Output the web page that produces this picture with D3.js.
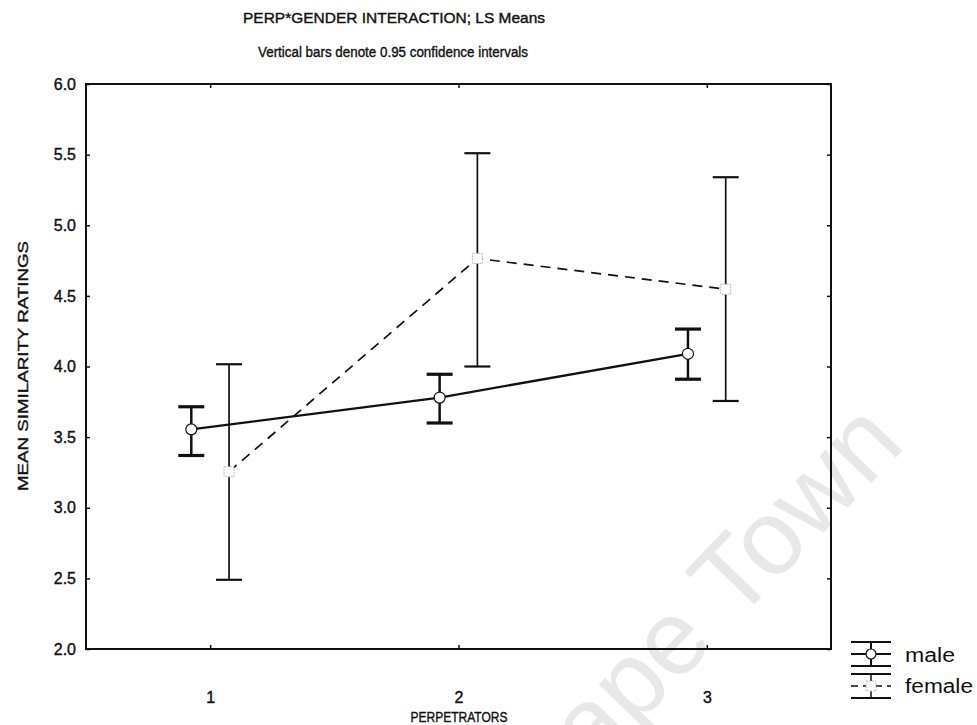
<!DOCTYPE html>
<html><head><meta charset="utf-8">
<script src="https://cdn.jsdelivr.net/npm/d3@7"></script>
<style>body{margin:0;background:#fff}svg{display:block}text{font-family:"Liberation Sans",Arial,sans-serif;fill:#111}
.ink{stroke:#111;stroke-width:0.4px;paint-order:stroke}</style>
</head><body><div id="c"></div>
<script>
const groups = [1, 2, 3];
const xTickLabels = ["1", "2", "3"];
const yTicks = [2.0, 2.5, 3.0, 3.5, 4.0, 4.5, 5.0, 5.5, 6.0];
const maleMean = [3.555, 3.78, 4.09];
const maleLow = [3.37, 3.60, 3.91];
const maleHigh = [3.715, 3.945, 4.265];
const femaleMean = [3.255, 4.765, 4.547];
const femaleLow = [2.49, 4.00, 3.756];
const femaleHigh = [4.016, 5.51, 5.34];
const seriesNames = ["male", "female"];

const W = 977, H = 725;
const svg = d3.select("#c").append("svg").attr("width", W).attr("height", H);

// watermark
svg.append("text").text("Cape Town")
  .attr("transform", "translate(540,826) rotate(-46)")
  .attr("font-size", 106).style("fill", "#e8e8e8");

const x = d3.scaleLinear().domain([0.5, 3.5]).range([86, 831]);
const y = d3.scaleLinear().domain([2, 6]).range([649, 84]);
const off = 0.076;

// titles
svg.append("text").attr("class", "ink").text("PERP*GENDER INTERACTION; LS Means")
  .attr("x", 394).attr("y", 23).attr("text-anchor", "middle")
  .attr("font-size", 15.5).attr("textLength", 302).attr("lengthAdjust", "spacingAndGlyphs");
svg.append("text").attr("class", "ink").text("Vertical bars denote 0.95 confidence intervals")
  .attr("x", 393).attr("y", 57).attr("text-anchor", "middle")
  .attr("font-size", 15.5).attr("textLength", 270).attr("lengthAdjust", "spacingAndGlyphs");

// axes
const yAxisL = d3.axisLeft(y).tickValues(yTicks).tickSize(-4).tickPadding(10).tickFormat(d3.format(".1f"));
const gL = svg.append("g").attr("transform", "translate(86,0)").call(yAxisL);
const yAxisR = d3.axisRight(y).tickValues(yTicks).tickSize(-4).tickFormat("");
const gR = svg.append("g").attr("transform", "translate(831,0)").call(yAxisR);
const xAxisB = d3.axisBottom(x).tickValues(groups).tickSize(-4).tickPadding(43).tickFormat((d, i) => xTickLabels[i]);
const gB = svg.append("g").attr("transform", "translate(0,649)").call(xAxisB);
const xAxisT = d3.axisTop(x).tickValues(groups).tickSize(-4).tickFormat("");
const gT = svg.append("g").attr("transform", "translate(0,84)").call(xAxisT);
[gL, gR, gB, gT].forEach(g => {
  g.select(".domain").remove();
  g.selectAll("line").attr("stroke", "#111").attr("stroke-width", 1.5);
  g.selectAll("text").attr("font-size", 16).attr("font-family", "Liberation Sans, Arial, sans-serif")
    .attr("class", "ink").style("fill", "#111");
});
svg.append("rect").attr("x", 86).attr("y", 84).attr("width", 745).attr("height", 565)
  .attr("fill", "none").attr("stroke", "#111").attr("stroke-width", 2);

// axis titles
svg.append("text").attr("class", "ink").text("MEAN SIMILARITY RATINGS")
  .attr("transform", "translate(28,366) rotate(-90)").attr("text-anchor", "middle")
  .attr("font-size", 15).attr("textLength", 250).attr("lengthAdjust", "spacingAndGlyphs");
svg.append("text").attr("class", "ink").text("PERPETRATORS")
  .attr("x", 459).attr("y", 722).attr("text-anchor", "middle")
  .attr("font-size", 15).attr("textLength", 97).attr("lengthAdjust", "spacingAndGlyphs");

// lines
const maleX = groups.map(g => g - off), femX = groups.map(g => g + off);
const line = d3.line().x(d => x(d[0])).y(d => y(d[1]));
svg.append("path").datum(femX.map((v, i) => [v, femaleMean[i]]))
  .attr("d", line).attr("fill", "none").attr("stroke", "#111").attr("stroke-width", 1.7).attr("stroke-dasharray", "10,7");
svg.append("path").datum(maleX.map((v, i) => [v, maleMean[i]]))
  .attr("d", line).attr("fill", "none").attr("stroke", "#111").attr("stroke-width", 2.3);

function errBars(xs, lo, hi, vw, cw) {
  const g = svg.append("g");
  xs.forEach((xv, i) => {
    g.append("line").attr("x1", x(xv)).attr("x2", x(xv)).attr("y1", y(lo[i])).attr("y2", y(hi[i]))
      .attr("stroke", "#111").attr("stroke-width", vw);
    [lo[i], hi[i]].forEach(v => g.append("line").attr("x1", x(xv) - 13).attr("x2", x(xv) + 13)
      .attr("y1", y(v)).attr("y2", y(v)).attr("stroke", "#111").attr("stroke-width", cw));
  });
}
errBars(femX, femaleLow, femaleHigh, 1.7, 2.2);
errBars(maleX, maleLow, maleHigh, 2.5, 3.2);

// markers
svg.append("g").selectAll("rect").data(femX).join("rect")
  .attr("x", (d) => x(d) - 5).attr("y", (d, i) => y(femaleMean[i]) - 5).attr("width", 10).attr("height", 10)
  .attr("fill", "#fff").attr("stroke", "#bbb").attr("stroke-width", 1).attr("stroke-dasharray", "2,1");
svg.append("g").selectAll("circle").data(maleX).join("circle")
  .attr("cx", d => x(d)).attr("cy", (d, i) => y(maleMean[i])).attr("r", 5.5)
  .attr("fill", "#fff").attr("stroke", "#111").attr("stroke-width", 1.2);

// legend
const lg = svg.append("g");
function legSym(cx, cy, dashed, marker) {
  const w = 20;
  lg.append("line").attr("x1", cx - w).attr("x2", cx + w).attr("y1", cy - 12).attr("y2", cy - 12).attr("stroke", "#111").attr("stroke-width", 2);
  lg.append("line").attr("x1", cx - w).attr("x2", cx + w).attr("y1", cy + 12).attr("y2", cy + 12).attr("stroke", "#111").attr("stroke-width", 2);
  lg.append("line").attr("x1", cx).attr("x2", cx).attr("y1", cy - 12).attr("y2", cy + 12).attr("stroke", "#111").attr("stroke-width", dashed ? 1.5 : 2);
  lg.append("line").attr("x1", cx - w).attr("x2", cx + w).attr("y1", cy).attr("y2", cy).attr("stroke", "#111")
    .attr("stroke-width", dashed ? 1.5 : 2).attr("stroke-dasharray", dashed ? "7,5" : null);
  if (marker === "circle") lg.append("circle").attr("cx", cx).attr("cy", cy).attr("r", 5).attr("fill", "#fff").attr("stroke", "#111").attr("stroke-width", 1.2);
  else lg.append("rect").attr("x", cx - 5).attr("y", cy - 5).attr("width", 10).attr("height", 10).attr("fill", "#fff").attr("stroke", "#bbb").attr("stroke-dasharray", "2,1");
}
legSym(871, 654, false, "circle");
legSym(871, 686, true, "rect");
lg.append("text").text(seriesNames[0]).attr("x", 905).attr("y", 662).attr("font-size", 20)
  .attr("textLength", 50).attr("lengthAdjust", "spacingAndGlyphs");
lg.append("text").text(seriesNames[1]).attr("x", 905).attr("y", 693).attr("font-size", 20)
  .attr("textLength", 68).attr("lengthAdjust", "spacingAndGlyphs");
</script></body></html>
